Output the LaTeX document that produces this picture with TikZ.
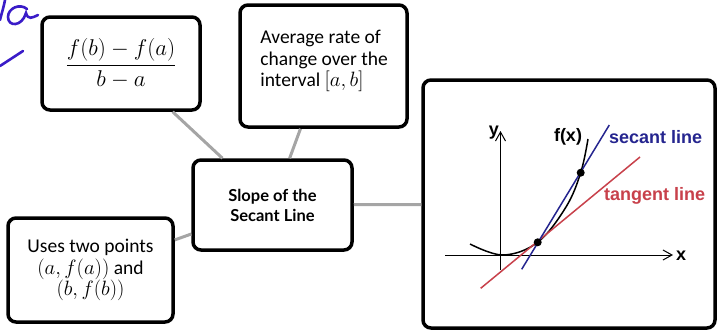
\documentclass[tikz,border=0pt]{standalone}
\usepackage{amsmath}
\usepackage{graphicx}
\usepackage{fontspec}
\usepackage{xcolor}
\usepackage{tikz}
\usetikzlibrary{arrows.meta,positioning}
\setmainfont{Carlito}
\newfontfamily\headfont{Lato}
\newfontfamily\plotfont{Liberation Sans}
\definecolor{ink}{HTML}{3A1CC8}
\definecolor{spokegray}{HTML}{A5A5A5}
\definecolor{secblue}{HTML}{25258F}
\definecolor{tanred}{HTML}{C8414B}
\newcommand{\boxfont}{\fontsize{19.5}{21.5}\selectfont}
\tikzset{
  card/.style={draw=black, line width=3.5pt, rounded corners=8pt, fill=white,
               align=center, inner sep=0pt},
  spoke/.style={draw=spokegray, line width=3pt},
  axis/.style={line width=1pt, -{Straight Barb[length=9pt,width=10pt]}},
  plotlbl/.style={font={\plotfont\bfseries\fontsize{18}{20}\selectfont}, inner sep=0pt},
  dot/.style={circle, fill=black, inner sep=0pt, minimum size=8pt}
}

\begin{document}
\begin{tikzpicture}[x=1pt,y=-1pt]
  \useasboundingbox (0,0) rectangle (718,332);
  \draw[ink, line width=2.6pt, line cap=round]
    (27,9) .. controls (20,3) and (8,8) .. (8,17)
    .. controls (8,27) and (22,27) .. (26,13)
    .. controls (28,20) and (32,18) .. (38,15);
  \draw[ink, line width=2.6pt, line cap=round] (0,20) .. controls (2,12) and (4,6) .. (5,0);
  \draw[ink, line width=2.6pt, line cap=round] (0,66) -- (23,51);
  \node[card, minimum width=158pt, minimum height=93pt] (frac) at (121,63.5)
    {\scalebox{1.1}{\fontsize{20}{24}\selectfont $\dfrac{f(b)-f(a)}{b-a}$}};
  \node[card, minimum width=167pt, minimum height=122pt] (avg) at (323.5,66) {};
  \node[anchor=north west, align=left, inner sep=0pt, font=\boxfont] (avgtxt)
    at ([shift={(22pt,-27pt)}]avg.north west)
    {Average rate of\\change over the\\interval $[a,b]$};
  \node[card, minimum width=159pt, minimum height=90pt,
        font={\headfont\bfseries\fontsize{16.5}{20}\selectfont}] (slope) at (272.5,205)
    {Slope of the\\Secant Line};
  \node[card, minimum width=165pt, minimum height=104pt, font=\boxfont] (pts) at (90.5,270)
    {Uses two points\\$(a,f(a))$ and\\$(b,f(b))$};
  \node[card, minimum width=292pt, minimum height=248pt] (graph) at (569,204) {};
  \draw[spoke] (frac) -- (slope);
  \draw[spoke] (avg) -- (slope);
  \draw[spoke] (pts) -- (slope);
  \draw[spoke] (slope) -- (graph);
  \draw[axis] (445,255) -- (673,255);
  \draw[axis] (500.5,270) -- (500.5,131);
  \node[plotlbl, anchor=west] (xlbl) at (676,256) {x};
  \node[plotlbl, anchor=east] (ylbl) at (499,133) {y};
  \draw[line width=1.5pt] plot[smooth, tension=0.6] coordinates
    {(470,244) (503,255) (537.7,242.3) (566,207) (580.7,172.7) (588,139)};
  \draw[tanred, line width=1.5pt] (480.7,288.3) -- (640,157);
  \draw[secblue, line width=1.5pt] (521.7,269.3) -- (609.3,125);
  \node[dot] (p) at (537.7,242.3) {};
  \node[dot] (q) at (580.7,172.7) {};
  \node[plotlbl] (fx) at (568,137) {f(x)};
  \node[plotlbl, secblue, anchor=west] (sec) at (609,137) {secant line};
  \node[plotlbl, tanred, anchor=west] (tan) at (604,196) {tangent line};
\end{tikzpicture}
\end{document}
